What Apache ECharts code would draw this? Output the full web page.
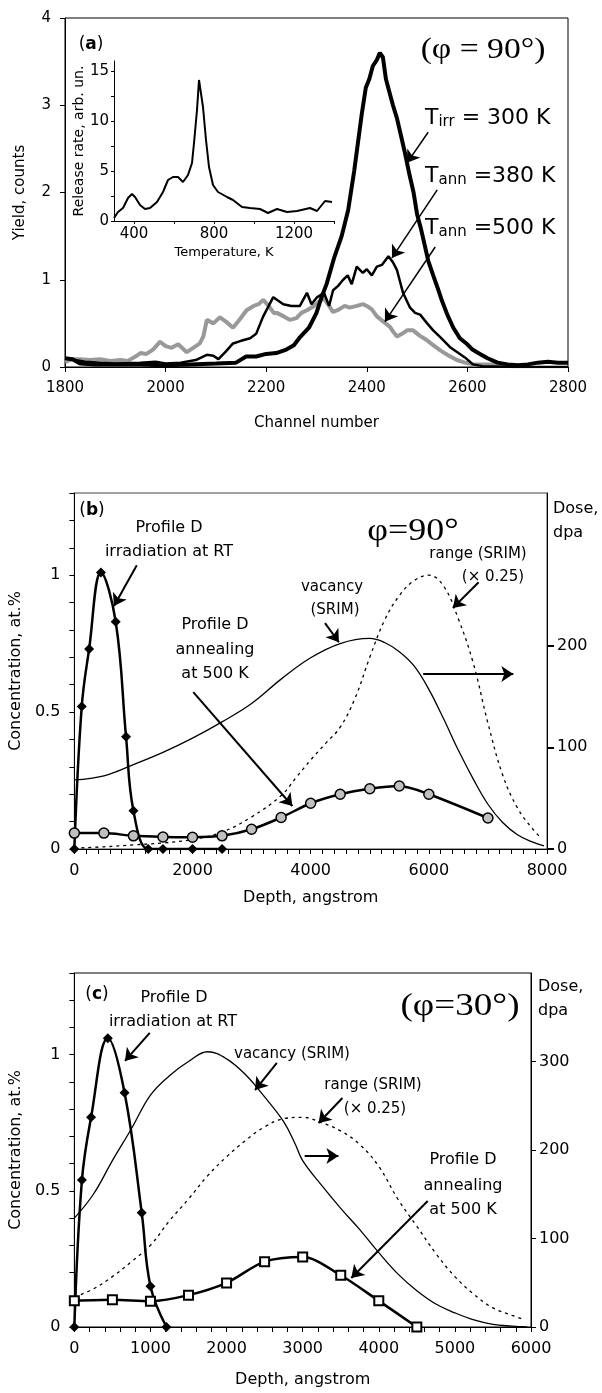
<!DOCTYPE html>
<html>
<head>
<meta charset="utf-8">
<script src="https://cdn.jsdelivr.net/npm/echarts@6/dist/echarts.min.js"></script>
<style>
  html, body { margin: 0; padding: 0; background: #fff; }
  #chart { width: 602px; height: 1393px; }
</style>
</head>
<body>
<div id="chart"></div>
<script>
// ---------- panel (a): yield vs channel number ----------
const chIrr300 = [1800, 1815, 1830, 1860, 1900, 1950, 2000, 2050, 2100, 2140, 2160, 2180, 2200, 2220, 2240, 2255, 2267, 2285, 2300, 2310, 2320, 2335, 2350, 2363, 2375, 2390, 2398, 2405, 2412, 2420, 2426, 2432, 2438, 2445, 2452, 2460, 2468, 2476, 2485, 2493, 2500, 2507, 2515, 2522, 2532, 2540, 2550, 2560, 2572, 2585, 2598, 2610, 2625, 2640, 2660, 2680, 2700, 2720, 2740, 2760, 2780, 2800];
const yIrr300 = [0.10, 0.09, 0.04, 0.03, 0.03, 0.03, 0.02, 0.03, 0.04, 0.05, 0.12, 0.12, 0.15, 0.16, 0.20, 0.25, 0.34, 0.45, 0.62, 0.80, 0.95, 1.25, 1.50, 1.80, 2.25, 2.90, 3.20, 3.30, 3.45, 3.52, 3.60, 3.55, 3.30, 3.15, 3.00, 2.85, 2.65, 2.45, 2.20, 2.00, 1.75, 1.60, 1.40, 1.22, 1.05, 0.92, 0.75, 0.60, 0.45, 0.33, 0.27, 0.20, 0.15, 0.10, 0.05, 0.03, 0.02, 0.03, 0.05, 0.06, 0.05, 0.05];

const chAnn380 = [1800, 1820, 1840, 1870, 1900, 1950, 1980, 2000, 2030, 2060, 2082, 2095, 2105, 2120, 2134, 2150, 2168, 2180, 2194, 2205, 2214, 2224, 2234, 2250, 2267, 2281, 2290, 2301, 2315, 2325, 2333, 2343, 2353, 2362, 2370, 2380, 2392, 2400, 2410, 2420, 2430, 2443, 2452, 2460, 2466, 2472, 2486, 2496, 2506, 2520, 2532, 2548, 2565, 2580, 2595, 2611, 2630, 2700, 2800];
const yAnn380 = [0.10, 0.08, 0.06, 0.05, 0.04, 0.05, 0.06, 0.04, 0.05, 0.08, 0.14, 0.13, 0.09, 0.18, 0.27, 0.30, 0.33, 0.38, 0.58, 0.70, 0.80, 0.76, 0.72, 0.70, 0.70, 0.85, 0.72, 0.80, 0.85, 0.70, 0.88, 0.93, 1.00, 1.05, 0.95, 1.15, 1.08, 1.12, 1.05, 1.15, 1.17, 1.27, 1.20, 1.11, 0.98, 0.85, 0.68, 0.62, 0.60, 0.50, 0.42, 0.33, 0.23, 0.17, 0.11, 0.03, 0.01, 0.00, 0.00];

const chAnn500 = [1800, 1815, 1830, 1850, 1870, 1890, 1910, 1925, 1940, 1950, 1962, 1975, 1989, 2000, 2012, 2025, 2042, 2055, 2068, 2075, 2082, 2095, 2108, 2120, 2134, 2148, 2161, 2175, 2185, 2194, 2205, 2215, 2221, 2235, 2247, 2260, 2270, 2281, 2295, 2305, 2314, 2325, 2333, 2345, 2356, 2366, 2380, 2393, 2400, 2410, 2420, 2433, 2446, 2453, 2460, 2470, 2480, 2492, 2505, 2519, 2530, 2546, 2560, 2579, 2595, 2611, 2640, 2665, 2690, 2710];
const yAnn500 = [0.06, 0.09, 0.09, 0.08, 0.09, 0.07, 0.08, 0.07, 0.12, 0.16, 0.15, 0.20, 0.29, 0.24, 0.22, 0.26, 0.17, 0.22, 0.27, 0.35, 0.54, 0.50, 0.57, 0.52, 0.45, 0.55, 0.65, 0.70, 0.72, 0.77, 0.70, 0.62, 0.62, 0.58, 0.54, 0.56, 0.62, 0.65, 0.70, 0.75, 0.79, 0.70, 0.63, 0.66, 0.70, 0.68, 0.70, 0.72, 0.70, 0.66, 0.58, 0.52, 0.46, 0.40, 0.35, 0.38, 0.42, 0.42, 0.36, 0.31, 0.26, 0.19, 0.14, 0.08, 0.05, 0.03, 0.03, 0.03, 0.02, 0.01];

// inset: release rate vs temperature
const tdsTemp = [300, 320, 345, 370, 390, 405, 430, 455, 480, 515, 545, 570, 595, 620, 645, 670, 690, 700, 715, 725, 735, 745, 760, 775, 795, 820, 865, 895, 940, 980, 1030, 1070, 1115, 1165, 1215, 1280, 1315, 1355, 1390];
const tdsRate = [0.3, 0.9, 1.3, 2.3, 2.7, 2.4, 1.6, 1.2, 1.3, 1.9, 2.9, 4.1, 4.4, 4.4, 3.9, 4.6, 5.8, 7.8, 11.1, 14.1, 13.9, 11.4, 8.1, 5.4, 3.6, 2.9, 2.4, 2.1, 1.4, 1.3, 1.2, 0.8, 1.2, 0.9, 1.0, 1.3, 1.0, 2.0, 1.9];

// ---------- panel (b): phi = 90 ----------
const bIrrDepth = [0, 125, 250, 450, 700, 875, 1000, 1250, 1500, 2000, 2500];
const bIrrConc = [0, 0.52, 0.73, 1.01, 0.83, 0.41, 0.14, 0, 0, 0, 0];
const bAnnDepth = [0, 500, 1000, 1500, 2000, 2500, 3000, 3500, 4000, 4500, 5000, 5500, 6000, 7000];
const bAnnConc = [0.058, 0.058, 0.048, 0.044, 0.043, 0.048, 0.072, 0.115, 0.167, 0.20, 0.22, 0.23, 0.20, 0.113];
const bVacDepth = [0, 500, 1000, 1500, 2000, 2500, 3000, 3500, 4000, 4500, 5000, 5250, 5500, 5750, 6000, 6250, 6500, 6750, 7000, 7250, 7500, 7750, 7950];
const bVacDose = [68, 72, 83, 95, 109, 125, 143, 167, 188, 202, 207, 203, 194, 180, 157, 128, 97, 69, 44, 26, 14, 7, 3];
const bRangeDepth = [0, 500, 1000, 1500, 2000, 2500, 3000, 3500, 3750, 4000, 4250, 4500, 4750, 5000, 5250, 5500, 5750, 6000, 6250, 6500, 6750, 7000, 7250, 7500, 7750, 7900];
const bRangeConc = [0.003, 0.008, 0.015, 0.022, 0.035, 0.062, 0.117, 0.195, 0.26, 0.325, 0.385, 0.445, 0.55, 0.70, 0.835, 0.925, 0.98, 1.0, 0.96, 0.84, 0.68, 0.46, 0.27, 0.15, 0.075, 0.04];

// ---------- panel (c): phi = 30 ----------
const cIrrDepth = [0, 100, 220, 440, 660, 885, 1000, 1210];
const cIrrConc = [0, 0.54, 0.77, 1.06, 0.86, 0.42, 0.15, 0];
const cAnnDepth = [0, 500, 1000, 1500, 2000, 2500, 3000, 3500, 4000, 4500];
const cAnnConc = [0.096, 0.10, 0.095, 0.117, 0.162, 0.24, 0.257, 0.19, 0.096, 0];
const cVacDepth = [0, 250, 500, 750, 1000, 1250, 1500, 1750, 2000, 2250, 2500, 2750, 2900, 3000, 3250, 3500, 3750, 4000, 4250, 4500, 4750, 5000, 5250, 5500, 5750, 5950];
const cVacDose = [123, 150, 188, 224, 262, 284, 300, 311, 303, 285, 260, 232, 207, 188, 160, 134, 110, 84, 60, 41, 26, 16, 8, 3, 1, 0];
const cRangeDepth = [0, 250, 500, 750, 1000, 1250, 1500, 1750, 2000, 2250, 2500, 2750, 3000, 3250, 3500, 3750, 4000, 4250, 4500, 4750, 5000, 5250, 5500, 5750, 5920];
const cRangeConc = [0.11, 0.14, 0.185, 0.24, 0.30, 0.39, 0.47, 0.555, 0.625, 0.685, 0.735, 0.765, 0.77, 0.75, 0.72, 0.67, 0.59, 0.47, 0.37, 0.27, 0.185, 0.12, 0.07, 0.043, 0.026];

// tick label values
const tdsTempLabels = [400, 800, 1200];
const tdsTempTicks = [400, 600, 800, 1000, 1200, 1400];
const tdsRateLabels = [0, 5, 10, 15];
const tdsRateTicks = [0, 2.5, 5, 7.5, 10, 12.5, 15];
const concLabels = [0, 0.5, 1];
const bDepthLabels = [0, 2000, 4000, 6000, 8000];
const bDoseLabels = [0, 100, 200];
const cDepthLabels = [0, 1000, 2000, 3000, 4000, 5000, 6000];
const cDoseLabels = [0, 100, 200, 300];

const zip = (xs, ys) => xs.map((x, i) => [x, ys[i]]);

const SANS = 'DejaVu Sans';
const SERIF = 'Liberation Serif';
const plain = v => String(v);

function label(size, margin, custom) {
  const l = { color: '#000', fontFamily: SANS, fontSize: size, margin: margin, formatter: plain };
  if (custom) l.customValues = custom;
  return l;
}

function axisBase(extra) {
  return Object.assign({
    type: 'value',
    splitLine: { show: false },
    axisLine: { show: true, onZero: false, lineStyle: { color: '#000', width: 1 } },
    axisTick: { show: true, length: 5, lineStyle: { color: '#000' } },
    axisLabel: label(16, 14),
    nameTextStyle: { color: '#000', fontFamily: SANS, fontSize: 16 }
  }, extra);
}

function arrows(pairs, width) {
  return {
    silent: true,
    animation: false,
    symbol: ['none', 'arrow'],
    symbolSize: 12,
    label: { show: false },
    lineStyle: { color: '#000', width: width || 1.8, type: 'solid' },
    data: pairs.map(p => [{ coord: p[0] }, { coord: p[1] }])
  };
}

function txt(x, y, text, size, opts) {
  const o = opts || {};
  return {
    type: 'text', x: x, y: y, scaleX: o.scaleX || 1, z: 100,
    style: {
      text: text, fill: '#000',
      fontSize: size, fontFamily: o.family || SANS, fontWeight: o.weight || 'normal',
      align: o.align || 'center', textAlign: o.align || 'center',
      verticalAlign: 'middle', textVerticalAlign: 'middle',
      rich: o.rich
    }
  };
}

const panelLetter = (x, y, l) => txt(x, y, '{n|(}{b|' + l + '}{n|)}', 17, {
  rich: { n: { fontSize: 17, fontFamily: SANS }, b: { fontSize: 17, fontFamily: SANS, fontWeight: 'bold' } }
});
const tempRich = {
  m: { fontSize: 22, fontFamily: SANS },
  s: { fontSize: 15, fontFamily: SANS, padding: [8, 0, 0, 0] }
};

const chart = echarts.init(document.getElementById('chart'), null, { renderer: 'canvas' });

const option = {
  animation: false,
  backgroundColor: '#fff',
  grid: [
    { left: 65, top: 18, width: 503, height: 349, show: true, borderColor: '#000', borderWidth: 1 },
    { left: 114, top: 61, width: 220, height: 160 },
    { left: 70, top: 493, width: 477, height: 356, show: true, borderColor: '#444', borderWidth: 1 },
    { left: 71, top: 973, width: 460, height: 354, show: true, borderColor: '#000', borderWidth: 1 }
  ],
  xAxis: [
    axisBase({ gridIndex: 0, min: 1800, max: 2800, interval: 200,
      axisLabel: label(15, 14),
      name: 'Channel number', nameLocation: 'middle', nameGap: 49,
      nameTextStyle: { color: '#000', fontFamily: SANS, fontSize: 15 } }),
    axisBase({ gridIndex: 1, min: 300, max: 1400, interval: 100,
      axisTick: { show: true, length: 3, customValues: tdsTempTicks, lineStyle: { color: '#000' } },
      axisLabel: label(15, 6, tdsTempLabels),
      name: 'Temperature, K', nameLocation: 'middle', nameGap: 25,
      nameTextStyle: { color: '#000', fontFamily: SANS, fontSize: 13 } }),
    axisBase({ gridIndex: 2, min: 0, max: 8000, interval: 200,
      axisLabel: label(16, 14, bDepthLabels),
      name: 'Depth, angstrom', nameLocation: 'middle', nameGap: 41 }),
    axisBase({ gridIndex: 3, min: 0, max: 6000, interval: 200,
      axisLabel: label(16, 14, cDepthLabels),
      name: 'Depth, angstrom', nameLocation: 'middle', nameGap: 45 })
  ],
  yAxis: [
    axisBase({ gridIndex: 0, min: 0, max: 4, interval: 1,
      axisLabel: label(15, 14),
      name: 'Yield, counts', nameLocation: 'middle', nameGap: 37,
      nameTextStyle: { color: '#000', fontFamily: SANS, fontSize: 15 } }),
    axisBase({ gridIndex: 1, min: 0, max: 16,
      axisTick: { show: true, length: 3, customValues: tdsRateTicks, lineStyle: { color: '#000' } },
      axisLabel: label(15, 5, tdsRateLabels),
      name: 'Release rate, arb. un.', nameLocation: 'middle', nameGap: 26,
      nameTextStyle: { color: '#000', fontFamily: SANS, fontSize: 14 } }),
    axisBase({ gridIndex: 2, min: 0, max: 1.3, interval: 0.1,
      axisLabel: label(16, 14, concLabels),
      name: 'Concentration, at.%', nameLocation: 'middle', nameGap: 45 }),
    axisBase({ gridIndex: 2, position: 'right', min: 0, max: 350,
      axisTick: { show: true, length: 7, customValues: bDoseLabels, lineStyle: { color: '#000', width: 2 } },
      axisLabel: label(16, 10, bDoseLabels) }),
    axisBase({ gridIndex: 3, min: 0, max: 1.3, interval: 0.1,
      axisLabel: label(16, 14, concLabels),
      name: 'Concentration, at.%', nameLocation: 'middle', nameGap: 46 }),
    axisBase({ gridIndex: 3, position: 'right', min: 0, max: 400,
      axisTick: { show: true, length: 5, customValues: cDoseLabels, lineStyle: { color: '#000' } },
      axisLabel: label(16, 8, cDoseLabels) })
  ],
  series: [
    // (a)
    { name: 'Tann 500 K', type: 'line', xAxisIndex: 0, yAxisIndex: 0, showSymbol: false,
      lineStyle: { color: '#999', width: 4 }, data: zip(chAnn500, yAnn500) },
    { name: 'Tann 380 K', type: 'line', xAxisIndex: 0, yAxisIndex: 0, showSymbol: false,
      lineStyle: { color: '#000', width: 2.5 }, data: zip(chAnn380, yAnn380) },
    { name: 'Tirr 300 K', type: 'line', xAxisIndex: 0, yAxisIndex: 0, showSymbol: false,
      lineStyle: { color: '#000', width: 4 }, data: zip(chIrr300, yIrr300),
      markLine: arrows([
        [[2522, 2.69], [2480, 2.34]],
        [[2540, 2.03], [2450, 1.25]],
        [[2536, 1.375], [2436, 0.52]]
      ], 1.5) },
    { name: 'Release rate', type: 'line', xAxisIndex: 1, yAxisIndex: 1, showSymbol: false,
      lineStyle: { color: '#000', width: 2 }, data: zip(tdsTemp, tdsRate) },
    // (b)
    { name: 'range b', type: 'line', xAxisIndex: 2, yAxisIndex: 2, showSymbol: false, smooth: 0.4,
      lineStyle: { color: '#000', width: 1.3, type: [3, 4] }, data: zip(bRangeDepth, bRangeConc) },
    { name: 'vacancy b', type: 'line', xAxisIndex: 2, yAxisIndex: 3, showSymbol: false, smooth: 0.4,
      lineStyle: { color: '#000', width: 1.3 }, data: zip(bVacDepth, bVacDose) },
    { name: 'annealing b', type: 'line', xAxisIndex: 2, yAxisIndex: 2, smooth: 0.3,
      symbol: 'circle', symbolSize: 10,
      itemStyle: { color: '#c0c0c0', borderColor: '#000', borderWidth: 1.5 },
      lineStyle: { color: '#000', width: 2.5 }, data: zip(bAnnDepth, bAnnConc) },
    { name: 'irradiation b', type: 'line', xAxisIndex: 2, yAxisIndex: 2, smooth: 0.4,
      symbol: 'diamond', symbolSize: 10,
      itemStyle: { color: '#000', borderColor: '#000', borderWidth: 0 },
      lineStyle: { color: '#000', width: 2.5 }, data: zip(bIrrDepth, bIrrConc),
      markLine: arrows([
        [[1057, 1.036], [671, 0.887]],
        [[2013, 0.573], [3690, 0.157]],
        [[6843, 0.974], [6407, 0.880]],
        [[4243, 0.825], [4478, 0.755]],
        [[5904, 0.639], [7430, 0.639]]
      ], 2) },
    // (c)
    { name: 'range c', type: 'line', xAxisIndex: 3, yAxisIndex: 4, showSymbol: false, smooth: 0.4,
      lineStyle: { color: '#000', width: 1.3, type: [3, 4] }, data: zip(cRangeDepth, cRangeConc) },
    { name: 'vacancy c', type: 'line', xAxisIndex: 3, yAxisIndex: 5, showSymbol: false, smooth: 0.4,
      lineStyle: { color: '#000', width: 1.3 }, data: zip(cVacDepth, cVacDose) },
    { name: 'annealing c', type: 'line', xAxisIndex: 3, yAxisIndex: 4, smooth: 0.3,
      symbol: 'rect', symbolSize: 9,
      itemStyle: { color: '#fff', borderColor: '#000', borderWidth: 2 },
      lineStyle: { color: '#000', width: 2.5 }, data: zip(cAnnDepth, cAnnConc) },
    { name: 'irradiation c', type: 'line', xAxisIndex: 3, yAxisIndex: 4, smooth: 0.4,
      symbol: 'diamond', symbolSize: 10,
      itemStyle: { color: '#000', borderColor: '#000', borderWidth: 0 },
      lineStyle: { color: '#000', width: 2.5 }, data: zip(cIrrDepth, cIrrConc),
      markLine: arrows([
        [[991, 1.080], [665, 0.977]],
        [[2661, 0.970], [2374, 0.870]],
        [[3522, 0.841], [3209, 0.749]],
        [[3026, 0.628], [3470, 0.628]],
        [[4643, 0.463], [3639, 0.180]]
      ], 2) }
  ],
  graphic: [
    // (a)
    panelLetter(91, 45, 'a'),
    txt(483, 50, '(φ = 90°)', 29, { family: SERIF, scaleX: 1.16 }),
    txt(425, 118, '{m|T}{s|irr}{m| = 300 K}', 22, { align: 'left', rich: tempRich }),
    txt(425, 176, '{m|T}{s|ann}{m| =380 K}', 22, { align: 'left', rich: tempRich }),
    txt(425, 228, '{m|T}{s|ann}{m| =500 K}', 22, { align: 'left', rich: tempRich }),
    // (b)
    panelLetter(92, 511, 'b'),
    txt(169, 528, 'Profile D', 16),
    txt(169, 552, 'irradiation at RT', 16),
    txt(413, 532, 'φ=90°', 31, { family: SERIF, scaleX: 1.16 }),
    txt(478, 554, 'range (SRIM)', 15),
    txt(493, 577, '(× 0.25)', 15),
    txt(332, 587, 'vacancy', 15),
    txt(335, 610, '(SRIM)', 15),
    txt(215, 625, 'Profile D', 16),
    txt(215, 650, 'annealing', 16),
    txt(215, 674, 'at 500 K', 16),
    txt(553, 509, 'Dose,', 16, { align: 'left' }),
    txt(553, 533, 'dpa', 16, { align: 'left' }),
    // (c)
    panelLetter(97, 995, 'c'),
    txt(174, 998, 'Profile D', 16),
    txt(173, 1022, 'irradiation at RT', 16),
    txt(460, 1007, '(φ=30°)', 32, { family: SERIF, scaleX: 1.16 }),
    txt(292, 1054, 'vacancy (SRIM)', 15),
    txt(373, 1085, 'range (SRIM)', 15),
    txt(375, 1109, '(× 0.25)', 15),
    txt(463, 1160, 'Profile D', 16),
    txt(463, 1186, 'annealing', 16),
    txt(463, 1210, 'at 500 K', 16),
    txt(538, 987, 'Dose,', 16, { align: 'left' }),
    txt(538, 1011, 'dpa', 16, { align: 'left' })
  ]
};

chart.setOption(option);
</script>
</body>
</html>
